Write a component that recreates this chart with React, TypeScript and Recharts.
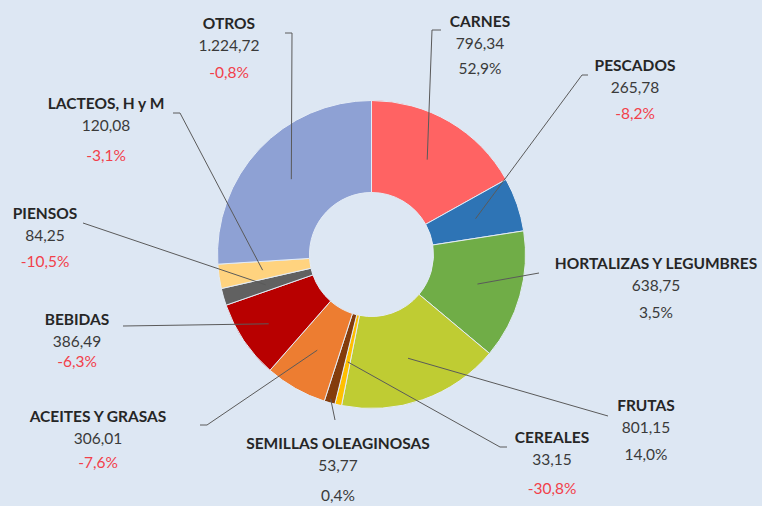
import React from "react";
import { PieChart, Pie, Cell } from "recharts";

// data, clockwise from 12 o'clock
const categories = [
  "CARNES",
  "PESCADOS",
  "HORTALIZAS Y LEGUMBRES",
  "FRUTAS",
  "CEREALES",
  "SEMILLAS OLEAGINOSAS",
  "ACEITES Y GRASAS",
  "BEBIDAS",
  "PIENSOS",
  "LACTEOS, H y M",
  "OTROS",
];
const values = [796.34, 265.78, 638.75, 801.15, 33.15, 53.77, 306.01, 386.49, 84.25, 120.08, 1224.72];
const changes = [52.9, -8.2, 3.5, 14.0, -30.8, 0.4, -7.6, -6.3, -10.5, -3.1, -0.8];
const colors = [
  "#ff6363",
  "#2e74b5",
  "#70ad47",
  "#bfcc33",
  "#ffc000",
  "#843c0c",
  "#ed7d31",
  "#b80000",
  "#616161",
  "#ffd37f",
  "#8ea1d4",
];

// label placement: text centre, leader line end points, gap before the % line
const labelLayout = [
  { x: 480, y: 21, pctGap: 25, line: [[432, 30], [441, 30]] },
  { x: 635, y: 65, pctGap: 26, line: [[582, 75], [588, 75]] },
  { x: 656, y: 263, pctGap: 27, line: [[539, 273]] },
  { x: 646, y: 405, pctGap: 27, line: [[608, 416]] },
  { x: 552, y: 437, pctGap: 29, line: [[500, 447], [507, 447]] },
  { x: 338, y: 443, pctGap: 30, line: [[335, 420]], startR: 150 },
  { x: 98, y: 416, pctGap: 24, line: [[207, 425], [200, 425]] },
  { x: 77, y: 319, pctGap: 20, line: [[123, 326]], startR: 124 },
  { x: 45, y: 213, pctGap: 26, line: [[83, 223]] },
  { x: 106, y: 103, pctGap: 30, line: [[180, 113], [173, 113]] },
  { x: 229, y: 23, pctGap: 27, line: [[292, 33], [285, 33]] },
];

const chartData = categories.map((name, i) => ({ name, value: values[i], change: changes[i] }));

const fmtValue = (v: number) => {
  const [int, dec] = v.toFixed(2).split(".");
  return int.replace(/\B(?=(\d{3})+(?!\d))/g, ".") + "," + dec;
};
const fmtPct = (v: number) => v.toFixed(1).replace(".", ",") + "%";

const RAD = Math.PI / 180;
const FONT = "Lato, 'Open Sans', sans-serif";

const renderLabel = (props: any) => {
  const { cx, cy, midAngle, index } = props;
  const lay = labelLayout[index];
  const r = lay.startR ?? 110;
  const sx = cx + Math.cos(-midAngle * RAD) * r;
  const sy = cy + Math.sin(-midAngle * RAD) * r;
  const pts = [[sx, sy], ...lay.line].map((p) => p.join(",")).join(" ");
  const d = chartData[index];
  return (
    <g key={`lbl-${index}`}>
      <polyline points={pts} fill="none" stroke="#5a5a5a" strokeWidth={1} />
      <text
        x={lay.x}
        y={lay.y}
        textAnchor="middle"
        dominantBaseline="central"
        fontFamily={FONT}
        fontSize={15.5}
        fontWeight={700}
        fill="#262626"
      >
        {d.name}
      </text>
      <text x={lay.x} y={lay.y + 22} textAnchor="middle" dominantBaseline="central" fontFamily={FONT} fontSize={15.5} fill="#3a3a3a">
        {fmtValue(d.value)}
      </text>
      <text
        x={lay.x}
        y={lay.y + 22 + lay.pctGap}
        textAnchor="middle"
        dominantBaseline="central"
        fontFamily={FONT}
        fontSize={15.5}
        fill={d.change < 0 ? "#f2404a" : "#3a3a3a"}
      >
        {fmtPct(d.change)}
      </text>
    </g>
  );
};

export default function App() {
  return (
    <div style={{ position: "fixed", left: 0, top: 0, width: 762, height: 506, background: "#dde7f3" }}>
      <PieChart width={762} height={506} margin={{ top: 0, right: 0, bottom: 0, left: 0 }}>
        <Pie
          data={chartData}
          dataKey="value"
          nameKey="name"
          cx={371.5}
          cy={254.5}
          innerRadius={62}
          outerRadius={154}
          startAngle={90}
          endAngle={-270}
          stroke="#e4ecf6"
          strokeWidth={1}
          label={renderLabel}
          labelLine={false}
          isAnimationActive={false}
        >
          {chartData.map((entry, i) => (
            <Cell key={`cell-${i}`} fill={colors[i]} />
          ))}
        </Pie>
      </PieChart>
    </div>
  );
}
